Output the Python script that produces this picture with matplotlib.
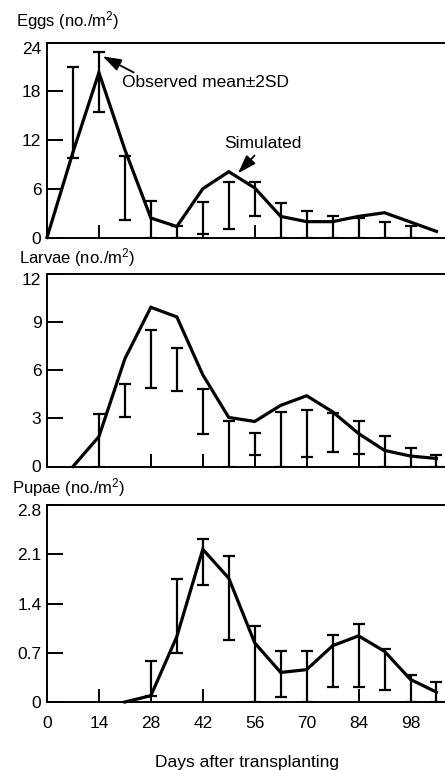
import numpy as np
import matplotlib
matplotlib.use("Agg")
import matplotlib.pyplot as plt
import matplotlib.transforms as mtransforms

plt.rcParams['font.family'] = ['Liberation Sans', 'DejaVu Sans']
plt.rcParams['mathtext.fontset'] = 'custom'
plt.rcParams['mathtext.rm'] = 'Liberation Sans'
plt.rcParams['mathtext.it'] = 'Liberation Sans'
plt.rcParams['mathtext.bf'] = 'Liberation Sans'

# ---- data ----
days_tick = [0, 14, 28, 42, 56, 70, 84, 98]

egg_sim_days = [0, 7, 14, 21, 28, 35, 42, 49, 56, 63, 70, 77, 84, 91, 98, 105]
egg_sim = [0, 10.5, 20.3, 10.8, 2.4, 1.35, 6.0, 8.1, 6.1, 2.6, 1.95, 1.95, 2.6, 3.05, 1.9, 0.75]
egg_obs_days = [7, 14, 21, 28, 35, 42, 49, 56, 63, 70, 77, 84, 91, 98]
egg_obs_lo = [9.8, 15.5, 2.1, 0, 0, 0.45, 1.0, 2.7, 0, 0, 0, 0, 0, 0]
egg_obs_hi = [21.0, 22.8, 10.05, 4.5, 1.4, 4.4, 6.8, 6.8, 4.2, 3.3, 2.7, 2.4, 1.95, 1.45]

lar_sim_days = [7, 14, 21, 28, 35, 42, 49, 56, 63, 70, 77, 84, 91, 98, 105]
lar_sim = [0, 1.86, 6.7, 9.9, 9.3, 5.7, 3.05, 2.8, 3.8, 4.4, 3.4, 2.05, 1.0, 0.65, 0.5]
lar_obs_days = [14, 21, 28, 35, 42, 49, 56, 63, 70, 77, 84, 91, 98, 105]
lar_obs_lo = [0, 3.1, 4.9, 4.7, 2.0, 0, 0.72, 0, 0.62, 0.93, 0.77, 0, 0, 0]
lar_obs_hi = [3.27, 5.15, 8.5, 7.35, 4.8, 2.8, 2.07, 3.37, 3.5, 3.35, 2.85, 1.9, 1.18, 0.72]

pup_sim_days = [21, 28, 35, 42, 49, 56, 63, 70, 77, 84, 91, 98, 105]
pup_sim = [0, 0.09, 0.93, 2.17, 1.76, 0.84, 0.42, 0.46, 0.80, 0.94, 0.72, 0.32, 0.14]
pup_obs_days = [28, 35, 42, 49, 56, 63, 70, 77, 84, 91, 98, 105]
pup_obs_lo = [0.09, 0.69, 1.67, 0.88, 0, 0.066, 0, 0.22, 0.22, 0.165, 0, 0]
pup_obs_hi = [0.585, 1.75, 2.31, 2.08, 1.08, 0.72, 0.72, 0.95, 1.11, 0.76, 0.39, 0.29]

panels = [
    ("Eggs (no./m$^{2}$)", egg_sim_days, egg_sim, egg_obs_days, egg_obs_lo, egg_obs_hi,
     [0, 6, 12, 18, 24], ["0", "6", "12", "18", "24"], 24),
    ("Larvae (no./m$^{2}$)", lar_sim_days, lar_sim, lar_obs_days, lar_obs_lo, lar_obs_hi,
     [0, 3, 6, 9, 12], ["0", "3", "6", "9", "12"], 12),
    ("Pupae (no./m$^{2}$)", pup_sim_days, pup_sim, pup_obs_days, pup_obs_lo, pup_obs_hi,
     [0, 0.7, 1.4, 2.1, 2.8], ["0", "0.7", "1.4", "2.1", "2.8"], 2.8),
]

W, H = 445, 770
fig = plt.figure(figsize=(W / 100, H / 100), dpi=100)

# (top px, bottom px, title y px, title x px)
geo = [(42.5, 237.5, 21, 16), (273.5, 466.5, 257.5, 19), (505, 702, 488, 12)]
left_px = 47
fs = 12.5
fs_title = 12

axes = []
for (title, sd, sv, od, lo, hi, yt, ytl, ymax), (tp, bp, ty, tx) in zip(panels, geo):
    ax = fig.add_axes([left_px / W, 1 - bp / H, 1 - left_px / W, (bp - tp) / H])
    ax.set_xlim(0, 107.3)
    ax.set_ylim(0, ymax)
    ax.plot(sd, sv, color='black', lw=2.3, solid_joinstyle='miter', zorder=3, clip_on=False)
    lo = np.array(lo); hi = np.array(hi)
    mid = (lo + hi) / 2
    ax.errorbar(od, mid, yerr=[mid - lo, hi - mid], fmt='none', ecolor='black',
                elinewidth=1.6, capsize=4.3, capthick=1.6, zorder=2)
    ax.set_yticks(yt)
    ax.set_yticklabels(ytl)
    ax.set_xticks(days_tick)
    ax.spines['right'].set_visible(False)
    for s in ['left', 'top', 'bottom']:
        ax.spines[s].set_linewidth(1.4)
    ax.tick_params(axis='y', direction='in', length=11.5, width=1.4, labelsize=fs, pad=4)
    ax.tick_params(axis='x', direction='in', length=9.5, width=1.4, labelsize=fs, pad=10)
    # top tick label sits slightly below its tick, as in the reference
    top_lab = ax.get_yticklabels()[-1]
    top_lab.set_transform(top_lab.get_transform() +
                          mtransforms.ScaledTranslation(0, -5 / 100, fig.dpi_scale_trans))
    fig.text(tx / W, 1 - ty / H, title, fontsize=fs_title, ha='left', va='center')
    axes.append(ax)

for ax in axes[:2]:
    ax.tick_params(axis='x', labelbottom=False)

ax0 = axes[0]
ax0.annotate("Observed mean\u00b12SD", xy=(15.0, 22.3), xytext=(20.3, 19.05),
             fontsize=fs, ha='left', va='center',
             arrowprops=dict(arrowstyle='-|>,head_length=0.9,head_width=0.3',
                             color='black', lw=1.3, shrinkA=0, shrinkB=0,
                             relpos=(0.1, 1.0)))
ax0.annotate("Simulated", xy=(51.5, 7.9), xytext=(58.2, 11.6),
             fontsize=fs, ha='center', va='center',
             arrowprops=dict(arrowstyle='-|>,head_length=0.9,head_width=0.3',
                             color='black', lw=1.3, shrinkA=2, shrinkB=0,
                             relpos=(0.45, 0.0)))

fig.text(247 / W, 1 - 762 / H, "Days after transplanting", fontsize=fs,
         ha='center', va='center')

fig.savefig("out.png", dpi=100)
